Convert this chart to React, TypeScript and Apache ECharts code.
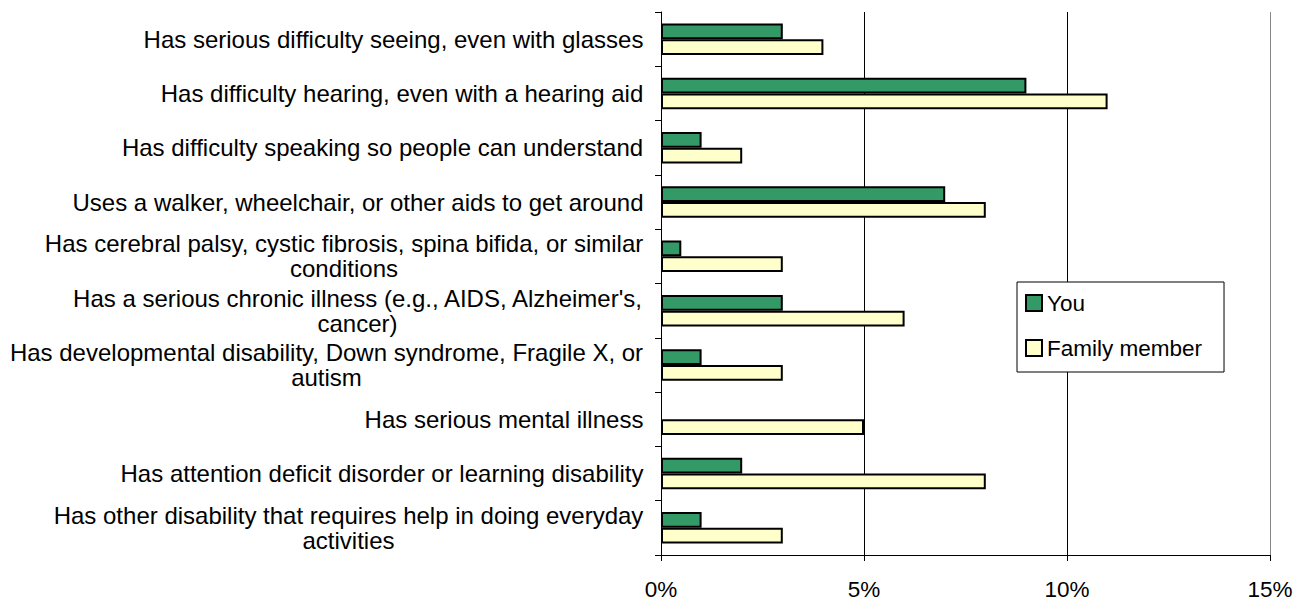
import React, { useEffect, useRef } from "react";
import * as echarts from "echarts";

const categories: string[] = [
  "Has serious difficulty seeing, even with glasses",
  "Has difficulty hearing, even with a hearing aid",
  "Has difficulty speaking so people can understand",
  "Uses a walker, wheelchair, or other aids to get around",
  "Has cerebral palsy, cystic fibrosis, spina bifida, or similar\nconditions",
  "Has a serious chronic illness (e.g., AIDS, Alzheimer's,\ncancer)",
  "Has developmental disability, Down syndrome, Fragile X, or\nautism",
  "Has serious mental illness",
  "Has attention deficit disorder or learning disability",
  "Has other disability that requires help in doing everyday\nactivities",
];
const youValues: number[] = [3, 9, 1, 7, 0.5, 3, 1, 0, 2, 1];
const familyValues: number[] = [4, 11, 2, 8, 3, 6, 3, 5, 8, 3];
const seriesNames: string[] = ["You", "Family member"];

const FONT = '"Liberation Sans", Arial, sans-serif';
const FS = 24;

function measure(text: string): number {
  const c = document.createElement("canvas");
  const ctx = c.getContext("2d")!;
  ctx.font = `${FS}px ${FONT}`;
  return ctx.measureText(text).width;
}

export default function App() {
  const ref = useRef<HTMLDivElement>(null);
  useEffect(() => {
    if (!ref.current) return;
    const chart = echarts.init(ref.current, undefined, { renderer: "svg" });
    const rich: Record<string, any> = {};
    categories.forEach((c, i) => {
      const w = Math.max(...c.split("\n").map(measure));
      rich["c" + i] = { width: Math.ceil(w) + 1, align: "center", fontSize: FS, fontFamily: FONT, color: "#000", lineHeight: 25 };
    });
    const toBar = (v: number) => (v === 0 ? null : v);
    chart.setOption({
      animation: false,
      backgroundColor: "#fff",
      grid: { left: 661, right: 37, top: 12, bottom: 47, containLabel: false },
      legend: {
        orient: "vertical",
        left: 1017,
        top: 282,
        backgroundColor: "#fff",
        borderColor: "#000",
        borderWidth: 1,
        borderRadius: 0,
        padding: [9, 22, 12, 8],
        itemGap: 21,
        itemWidth: 16,
        itemHeight: 16,
        icon: "rect",
        textStyle: { fontSize: 22.5, fontFamily: FONT, color: "#000", lineHeight: 24 },
        data: seriesNames,
      },
      xAxis: {
        type: "value",
        min: 0,
        max: 15,
        interval: 5,
        axisLine: { show: true, lineStyle: { color: "#000", width: 1 } },
        axisTick: { show: true, length: 6, lineStyle: { color: "#000" } },
        axisLabel: { formatter: "{value}%", fontSize: 22.5, fontFamily: FONT, color: "#000", margin: 23 },
        splitLine: { show: true, lineStyle: { color: ["#000", "#000", "#000", "#888"], width: 1 } },
      },
      yAxis: {
        type: "category",
        inverse: true,
        data: categories,
        axisLine: { show: true, lineStyle: { color: "#000", width: 1 } },
        axisTick: { show: true, length: 6, lineStyle: { color: "#000" } },
        axisLabel: {
          margin: 17,
          interval: 0,
          formatter: (v: string, idx: number) =>
            v.split("\n").map((l) => `{c${idx}|${l}}`).join("\n"),
          rich,
        },
      },
      series: [
        {
          name: seriesNames[0],
          type: "bar",
          data: youValues.map(toBar),
          barGap: "0%",
          barCategoryGap: "42%",
          itemStyle: { color: "#339966", borderColor: "#000", borderWidth: 2 },
        },
        {
          name: seriesNames[1],
          type: "bar",
          data: familyValues.map(toBar),
          barGap: "0%",
          barCategoryGap: "42%",
          itemStyle: { color: "#FFFFCC", borderColor: "#000", borderWidth: 2 },
        },
      ],
    });
    return () => chart.dispose();
  }, []);
  return (
    <div
      ref={ref}
      style={{ position: "fixed", left: 0, top: 0, width: 1307, height: 602, background: "#fff" }}
    />
  );
}
